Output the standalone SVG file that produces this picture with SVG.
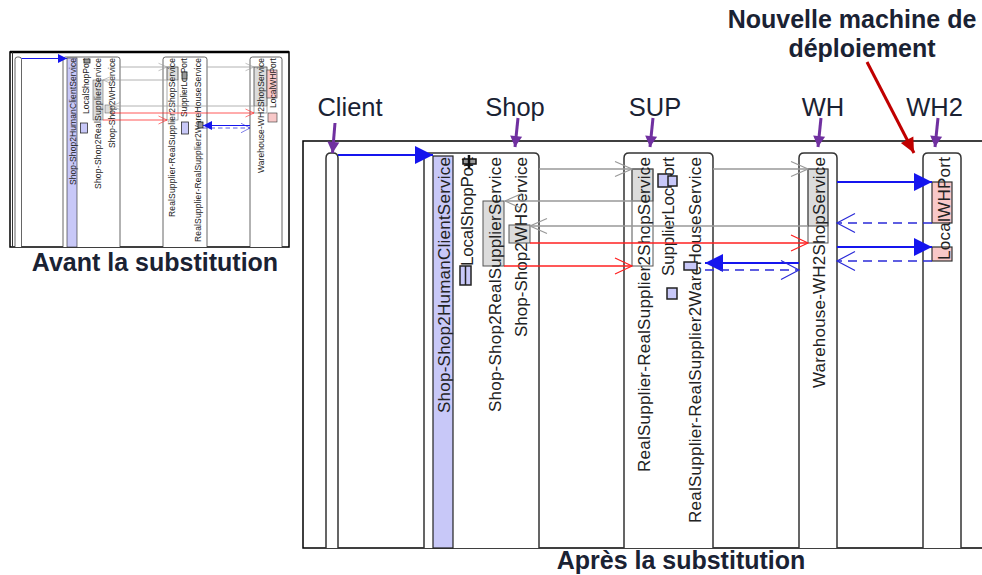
<svg xmlns="http://www.w3.org/2000/svg" width="982" height="575" viewBox="0 0 982 575">
<style>
.box{fill:#fff;stroke:#333;stroke-width:1.5}
.nt{font-family:"Liberation Sans",Arial,sans-serif;font-size:17px;fill:#222}
.lbl{font-family:"Liberation Sans",Arial,sans-serif;font-size:25.5px;fill:#1a2233;text-anchor:middle}
.ttl{font-family:"Liberation Sans",Arial,sans-serif;font-size:25px;font-weight:bold;fill:#1a2233;text-anchor:middle}
.act{fill:#dcdcdc;stroke:#555;stroke-width:1}
.acto{fill:none;stroke:#555;stroke-width:1}
.port{fill:#c8c8f8;stroke:#222;stroke-width:1.5}
.dk{fill:#999;stroke:#111;stroke-width:1.5}
.pink{fill:#f8c8c8;stroke:#333;stroke-width:1.2}
.bar{fill:#c8c8f8;stroke:#222;stroke-width:1.2}
.mg{stroke:#999;stroke-width:1.5;fill:none;marker-end:url(#og)}
.mr{stroke:#ff2020;stroke-width:1.5;fill:none;marker-end:url(#or)}
.mb{stroke:#1515ee;stroke-width:2;fill:none;marker-end:url(#fb)}
.md{stroke:#2a2ad8;stroke-width:1.5;stroke-dasharray:9 6;fill:none;marker-end:url(#ob)}
.pa{stroke:#7030a0;stroke-width:3;fill:none;marker-end:url(#pp)}
.ra{stroke:#c00000;stroke-width:3;fill:none;marker-end:url(#rd)}
.frame{fill:none;stroke:#000;stroke-width:1.5}
</style>
<defs>
<marker id="fb" markerUnits="userSpaceOnUse" markerWidth="18" markerHeight="18" refX="18" refY="9" orient="auto" overflow="visible"><path d="M0,0 L18,9 L0,18 Z" fill="#1515ee"/></marker>
<marker id="ob" markerUnits="userSpaceOnUse" markerWidth="18" markerHeight="20" refX="18" refY="9.5" orient="auto" overflow="visible"><path d="M0,0 L18,9.5 L0,19" fill="none" stroke="#2a2ad8" stroke-width="1.2"/></marker>
<marker id="og" markerUnits="userSpaceOnUse" markerWidth="17" markerHeight="16" refX="17" refY="7.5" orient="auto" overflow="visible"><path d="M0,0 L17,7.5 L0,15" fill="none" stroke="#999" stroke-width="1.2"/></marker>
<marker id="or" markerUnits="userSpaceOnUse" markerWidth="17" markerHeight="16" refX="17" refY="8" orient="auto" overflow="visible"><path d="M0,0 L17,8 L0,16" fill="none" stroke="#ff2020" stroke-width="1.2"/></marker>
<marker id="pp" markerUnits="userSpaceOnUse" markerWidth="12" markerHeight="12" refX="11" refY="6" orient="auto" overflow="visible"><path d="M0,0 L11,6 L0,12 Z" fill="#7030a0"/></marker>
<marker id="rd" markerUnits="userSpaceOnUse" markerWidth="16" markerHeight="14" refX="15" refY="7" orient="auto" overflow="visible"><path d="M0,0 L15,7 L0,14 Z" fill="#c00000"/></marker>
</defs>
<rect width="982" height="575" fill="#fff"/>

<!-- ===== Before substitution (thumbnail) ===== -->
<g id="thumb-frame">
<rect x="10" y="52" width="279" height="195" class="frame"/>
<line x1="10" y1="52" x2="289" y2="52" stroke="#000" stroke-width="2.5"/>
<line x1="12.5" y1="52" x2="12.5" y2="247" stroke="#333" stroke-width="1"/>
</g>
<g id="before" transform="scale(0.5)">
<g id="t-client"><path class="box" d="M30,494 V119 Q30,114 35,114 H38 Q43,114 43,119 V494"/></g>
<g id="t-shop">
<path class="box" d="M126,494 V119 Q126,114 131,114 H235 Q240,114 240,119 V494"/>
<rect class="bar" x="134" y="116" width="20" height="378"/>
<text class="nt" transform="translate(152,370) rotate(-90)" textLength="254">Shop-Shop2HumanClientService</text>
<text class="nt" transform="translate(177,228) rotate(-90)" textLength="112">LocalShopPort</text>
<rect class="dk" x="168" y="118" width="12" height="8"/>
<rect class="port" x="161" y="246" width="14" height="20" stroke-width="2.5"/>
<rect class="act" x="186" y="160" width="20" height="80"/>
<text class="nt" transform="translate(201,378) rotate(-90)" textLength="262">Shop-Shop2RealSupplierService</text>
<rect class="act" x="210" y="210" width="14" height="16"/>
<text class="nt" transform="translate(230,296) rotate(-90)" textLength="180">Shop-Shop2WHService</text>
</g>
<g id="t-sup">
<path class="box" d="M326,494 V119 Q326,114 331,114 H409 Q414,114 414,119 V494"/>
<rect class="act" x="334" y="134" width="22" height="26"/>
<rect class="acto" x="334" y="134" width="22" height="106"/>
<text class="nt" transform="translate(350,434) rotate(-90)" textLength="318">RealSupplier-RealSupplier2ShopService</text>
<text class="nt" transform="translate(373,234) rotate(-90)" textLength="118">SupplierLocPort</text>
<rect class="dk" x="364" y="144" width="10" height="14"/>
<rect class="port" x="363" y="244" width="14" height="24" stroke-width="2.5"/>
<text class="nt" transform="translate(402,484) rotate(-90)" textLength="368">RealSupplier-RealSupplier2WareHouseService</text>
<rect class="dk" x="396" y="244" width="10" height="12"/>
</g>
<g id="t-wh">
<path class="box" d="M500,494 V119 Q500,114 505,114 H559 Q564,114 564,119 V494"/>
<rect class="act" x="508" y="134" width="26" height="78"/>
<rect class="acto" x="508" y="134" width="26" height="92"/>
<text class="nt" transform="translate(527,346) rotate(-90)" textLength="230">Warehouse-WH2ShopService</text>
<rect class="pink" x="534" y="140" width="20" height="56"/>
<text class="nt" transform="translate(552,216) rotate(-90)" textLength="100">LocalWHPort</text>
<rect class="pink" x="536" y="226" width="18" height="18"/>
</g>
<g id="t-connectors">
<line class="mb" x1="43" y1="117" x2="134" y2="117"/>
<line class="mg" x1="240" y1="134" x2="334" y2="134"/>
<line class="mg" x1="414" y1="134" x2="508" y2="134"/>
<line class="mg" x1="334" y1="160" x2="206" y2="160"/>
<line class="mg" x1="508" y1="212" x2="224" y2="212"/>
<line class="mr" x1="224" y1="226" x2="508" y2="226"/>
<line class="mr" x1="206" y1="240" x2="334" y2="240"/>
<line class="mb" x1="500" y1="251" x2="406" y2="251"/>
<line class="md" x1="406" y1="256" x2="500" y2="256" stroke="#5a5ae8" stroke-width="3"/>
</g>
</g>
<text class="ttl" x="155" y="271">Avant la substitution</text>

<!-- ===== After substitution ===== -->
<rect x="303" y="141" width="700" height="407" class="frame"/>
<g id="client">
<path class="box" d="M326,548 V158 Q326,153 331,153 H333 Q338,153 338,158 V548"/>
<text class="lbl" x="350" y="116">Client</text>
</g>
<g id="shop">
<path class="box" d="M424,548 V158 Q424,153 429,153 H534 Q539,153 539,158 V548"/>
<rect class="bar" x="433" y="156" width="20" height="392"/>
<text class="nt" transform="translate(449.5,413) rotate(-90)" textLength="256">Shop-Shop2HumanClientService</text>
<text class="nt" transform="translate(473,266) rotate(-90)" textLength="109">LocalShopPort</text>
<rect class="dk" x="463" y="159" width="13" height="5"/>
<line x1="469" y1="155" x2="469" y2="168" stroke="#111" stroke-width="2.5"/>
<rect class="port" x="460" y="266" width="11" height="19" stroke-width="2.5"/>
<line x1="465.5" y1="266" x2="465.5" y2="285" stroke="#222" stroke-width="1.5"/>
<rect class="act" x="483" y="201" width="21" height="65"/>
<text class="nt" transform="translate(500.5,412) rotate(-90)" textLength="255">Shop-Shop2RealSupplierService</text>
<rect class="act" x="509" y="225" width="21" height="18"/>
<text class="nt" transform="translate(526.5,337) rotate(-90)" textLength="180">Shop-Shop2WHService</text>
<text class="lbl" x="515" y="116">Shop</text>
</g>
<g id="sup">
<path class="box" d="M624,548 V158 Q624,153 629,153 H708 Q713,153 713,158 V548"/>
<rect class="act" x="632" y="169" width="21" height="32"/>
<rect class="acto" x="632" y="169" width="21" height="97"/>
<text class="nt" transform="translate(649.5,472) rotate(-90)" textLength="315">RealSupplier-RealSupplier2ShopService</text>
<text class="nt" transform="translate(674,276) rotate(-90)" textLength="119">SupplierLocPort</text>
<rect class="port" x="658" y="174" width="13" height="13"/>
<rect x="668" y="176" width="9" height="10" fill="#c8c8f8" stroke="#222" stroke-width="1.5"/>
<rect class="port" x="667" y="288" width="10" height="11" stroke-width="2.5"/>
<text class="nt" transform="translate(700.5,523) rotate(-90)" textLength="366">RealSupplier-RealSupplier2WareHouseService</text>
<rect class="port" x="684" y="262" width="13" height="8" stroke-width="1.2"/>
<text class="lbl" x="655" y="116">SUP</text>
</g>
<g id="wh">
<path class="box" d="M799,548 V158 Q799,153 804,153 H832 Q837,153 837,158 V548"/>
<rect class="act" x="808" y="169" width="20" height="57"/>
<rect class="acto" x="808" y="169" width="20" height="74"/>
<text class="nt" transform="translate(824.5,388) rotate(-90)" textLength="231">Warehouse-WH2ShopService</text>
<text class="lbl" x="823" y="116">WH</text>
</g>
<g id="wh2">
<path class="box" d="M923,548 V158 Q923,153 928,153 H956 Q961,153 961,158 V548"/>
<rect class="pink" x="932" y="182" width="20" height="41"/>
<rect class="pink" x="932" y="247" width="20" height="14"/>
<text class="nt" transform="translate(950,260) rotate(-90)" textLength="103">LocalWHPort</text>
<text class="lbl" x="934.5" y="116">WH2</text>
</g>
<g id="connectors">
<line class="mb" x1="338" y1="155" x2="433" y2="155"/>
<line class="mg" x1="539" y1="169" x2="632" y2="169"/>
<line class="mg" x1="713" y1="169" x2="808" y2="169"/>
<line class="mg" x1="633" y1="201" x2="505" y2="201"/>
<line class="mg" x1="808" y1="226" x2="530" y2="226"/>
<line class="mr" x1="530" y1="243" x2="808" y2="243"/>
<line class="mr" x1="504" y1="266" x2="632" y2="266"/>
<line class="mb" x1="799" y1="263" x2="705" y2="263"/>
<line class="md" x1="705" y1="270" x2="799" y2="270"/>
<line class="mb" x1="837" y1="182" x2="932" y2="182"/>
<line class="md" x1="932" y1="223" x2="837" y2="223"/>
<line class="mb" x1="837" y1="247" x2="932" y2="247"/>
<line class="md" x1="932" y1="261" x2="837" y2="261"/>
</g>
<g id="pointers">
<line class="pa" x1="335" y1="123" x2="332.5" y2="153"/>
<line class="pa" x1="518" y1="118" x2="515" y2="147"/>
<line class="pa" x1="653" y1="118" x2="650" y2="147"/>
<line class="pa" x1="821" y1="118" x2="818" y2="147"/>
<line class="pa" x1="938" y1="118" x2="935" y2="147"/>
<line class="ra" x1="867" y1="62" x2="914" y2="153"/>
</g>
<g id="note">
<text class="ttl" x="852" y="28">Nouvelle machine de</text>
<text class="ttl" x="862" y="57">déploiement</text>
</g>
<text class="ttl" x="681" y="569">Après la substitution</text>
</svg>
